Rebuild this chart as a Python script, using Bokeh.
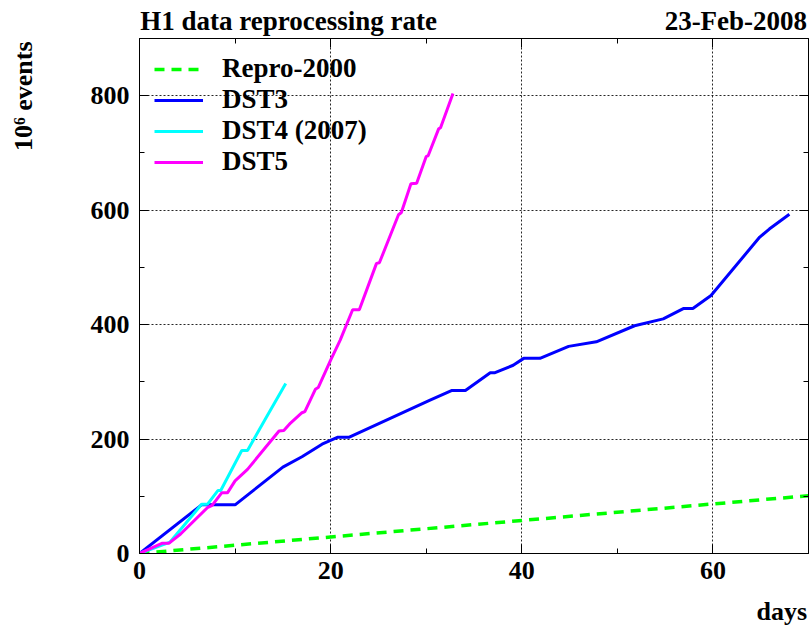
from bokeh.plotting import figure
from bokeh.models import Range1d, FixedTicker, LinearAxis, Legend, LegendItem
from bokeh.embed import file_html
from bokeh.resources import INLINE

# ---- data ----
title_text = "H1 data reprocessing rate"
date_text = "23-Feb-2008"
x_label = "days"
y_label = "10\u2076 events"

x_major = [0, 20, 40, 60]
x_minor = [10, 30, 50]
y_major = [0, 200, 400, 600, 800]
y_minor = [100, 300, 500, 700]

repro_days = [0, 70]
repro_events = [0, 101]

dst3_days = [0, 6.5, 10.0, 15.0, 17.0, 19.1, 20.7, 21.9, 30.4, 32.7, 34.1, 36.7, 37.2,
             39.1, 40.2, 41.9, 44.9, 47.8, 51.8, 54.8, 56.9, 57.9, 59.8, 64.9, 65.9, 68.0]
dst3_events = [0, 85, 85, 151, 169, 191, 203, 203, 268, 285, 285, 316, 316,
               329, 341, 341, 362, 370, 398, 410, 428, 428, 451, 553, 567, 593]

dst4_days = [0, 3.2, 6.5, 7.1, 8.2, 8.5, 10.7, 11.3, 13.2, 15.3]
dst4_events = [0, 20, 86, 86, 110, 110, 180, 180, 236, 297]

dst5_days = [0, 2.4, 3.1, 4.3, 7.1, 7.6, 8.6, 9.2, 10.0, 11.3, 14.6, 15.1, 15.8, 17.0, 17.3,
             18.4, 18.7, 20.0, 21.0, 22.3, 23.0, 24.8, 25.1, 27.1, 27.4, 28.4, 29.0, 30.0,
             30.2, 31.3, 31.5, 32.8]
dst5_events = [0, 18, 18, 34, 80, 84, 106, 106, 127, 147, 214, 215, 228, 246, 248,
               287, 290, 338, 373, 426, 426, 507, 508, 592, 596, 646, 647, 694,
               695, 742, 744, 804]

FONT = "Liberation Serif"

p = figure(width=811, height=628, output_backend="svg", toolbar_location=None,
           x_range=Range1d(0, 70), y_range=Range1d(0, 900),
           min_border_left=139, min_border_right=3, min_border_top=38, min_border_bottom=75)
p.title.visible = False
p.background_fill_color = "white"
p.border_fill_color = "white"
p.outline_line_color = "black"
p.outline_line_width = 1

xt = FixedTicker(ticks=x_major, minor_ticks=x_minor)
yt = FixedTicker(ticks=y_major, minor_ticks=y_minor)


def style_axis(ax, ticker, labels=True):
    ax.ticker = ticker
    ax.axis_line_color = "black"
    ax.major_tick_in = 9
    ax.major_tick_out = 0
    ax.minor_tick_in = 5
    ax.minor_tick_out = 0
    ax.major_tick_line_color = "black"
    ax.minor_tick_line_color = "black"
    if labels:
        ax.major_label_text_font = FONT
        ax.major_label_text_font_style = "bold"
        ax.major_label_text_font_size = "26px"
        ax.major_label_text_color = "black"
    else:
        ax.major_label_text_font_size = "0px"
        ax.major_label_standoff = 0
        ax.major_label_text_color = None


def text_axis(pos, text, size, standoff, orientation="horizontal"):
    """A tick-less axis whose only label carries a caption text."""
    ax = LinearAxis(ticker=FixedTicker(ticks=list(pos), minor_ticks=[]),
                    major_label_overrides=dict(zip(pos, text)))
    ax.axis_line_color = None
    ax.major_tick_line_color = None
    ax.minor_tick_line_color = None
    ax.major_tick_in = 0
    ax.major_tick_out = 0
    ax.minor_tick_in = 0
    ax.minor_tick_out = 0
    ax.major_label_standoff = standoff
    ax.major_label_orientation = orientation
    ax.major_label_text_font = FONT
    ax.major_label_text_font_style = "bold"
    ax.major_label_text_font_size = size
    ax.major_label_text_color = "black"
    return ax


xa = p.xaxis[0]
style_axis(xa, xt)
xa.major_label_standoff = 8

ya = p.yaxis[0]
style_axis(ya, yt)
ya.major_label_standoff = 10

top_ax = LinearAxis()
style_axis(top_ax, xt, labels=False)
p.add_layout(top_ax, "above")
right_ax = LinearAxis()
style_axis(right_ax, yt, labels=False)
p.add_layout(right_ax, "right")

# captions placed through extra tick-less axes
title_pos, date_pos = 15.6, 62.4
p.add_layout(text_axis([title_pos, date_pos], [title_text, date_text], "27px", 3), "above")
days_pos = 67.2
p.add_layout(text_axis([days_pos], [x_label], "26px", 15), "below")
ylab_pos = 799
p.add_layout(text_axis([ylab_pos], [y_label], "26px", 49, "parallel"), "left")

for g in (p.xgrid[0], p.ygrid[0]):
    g.grid_line_color = "black"
    g.grid_line_dash = "2 2"
    g.grid_line_width = 1
    g.grid_line_alpha = 0.85

r0 = p.line(repro_days, repro_events, line_color="#00ff00", line_width=3.5, line_dash="10 7")
r1 = p.line(dst3_days, dst3_events, line_color="#0000ff", line_width=3)
r2 = p.line(dst4_days, dst4_events, line_color="#00ffff", line_width=3)
r3 = p.line(dst5_days, dst5_events, line_color="#ff00ff", line_width=3)

legend = Legend(items=[LegendItem(label="Repro-2000", renderers=[r0]),
                       LegendItem(label="DST3", renderers=[r1]),
                       LegendItem(label="DST4 (2007)", renderers=[r2]),
                       LegendItem(label="DST5", renderers=[r3])],
                location="top_left")
legend.background_fill_alpha = 0
legend.border_line_alpha = 0
legend.label_text_font = FONT
legend.label_text_font_style = "bold"
legend.label_text_font_size = "27px"
legend.label_text_color = "black"
legend.glyph_width = 49
legend.glyph_height = 20
legend.label_standoff = 19
legend.spacing = 0
legend.margin = 5
legend.padding = 10
p.add_layout(legend)

open("out.html", "w").write(file_html(p, INLINE))
